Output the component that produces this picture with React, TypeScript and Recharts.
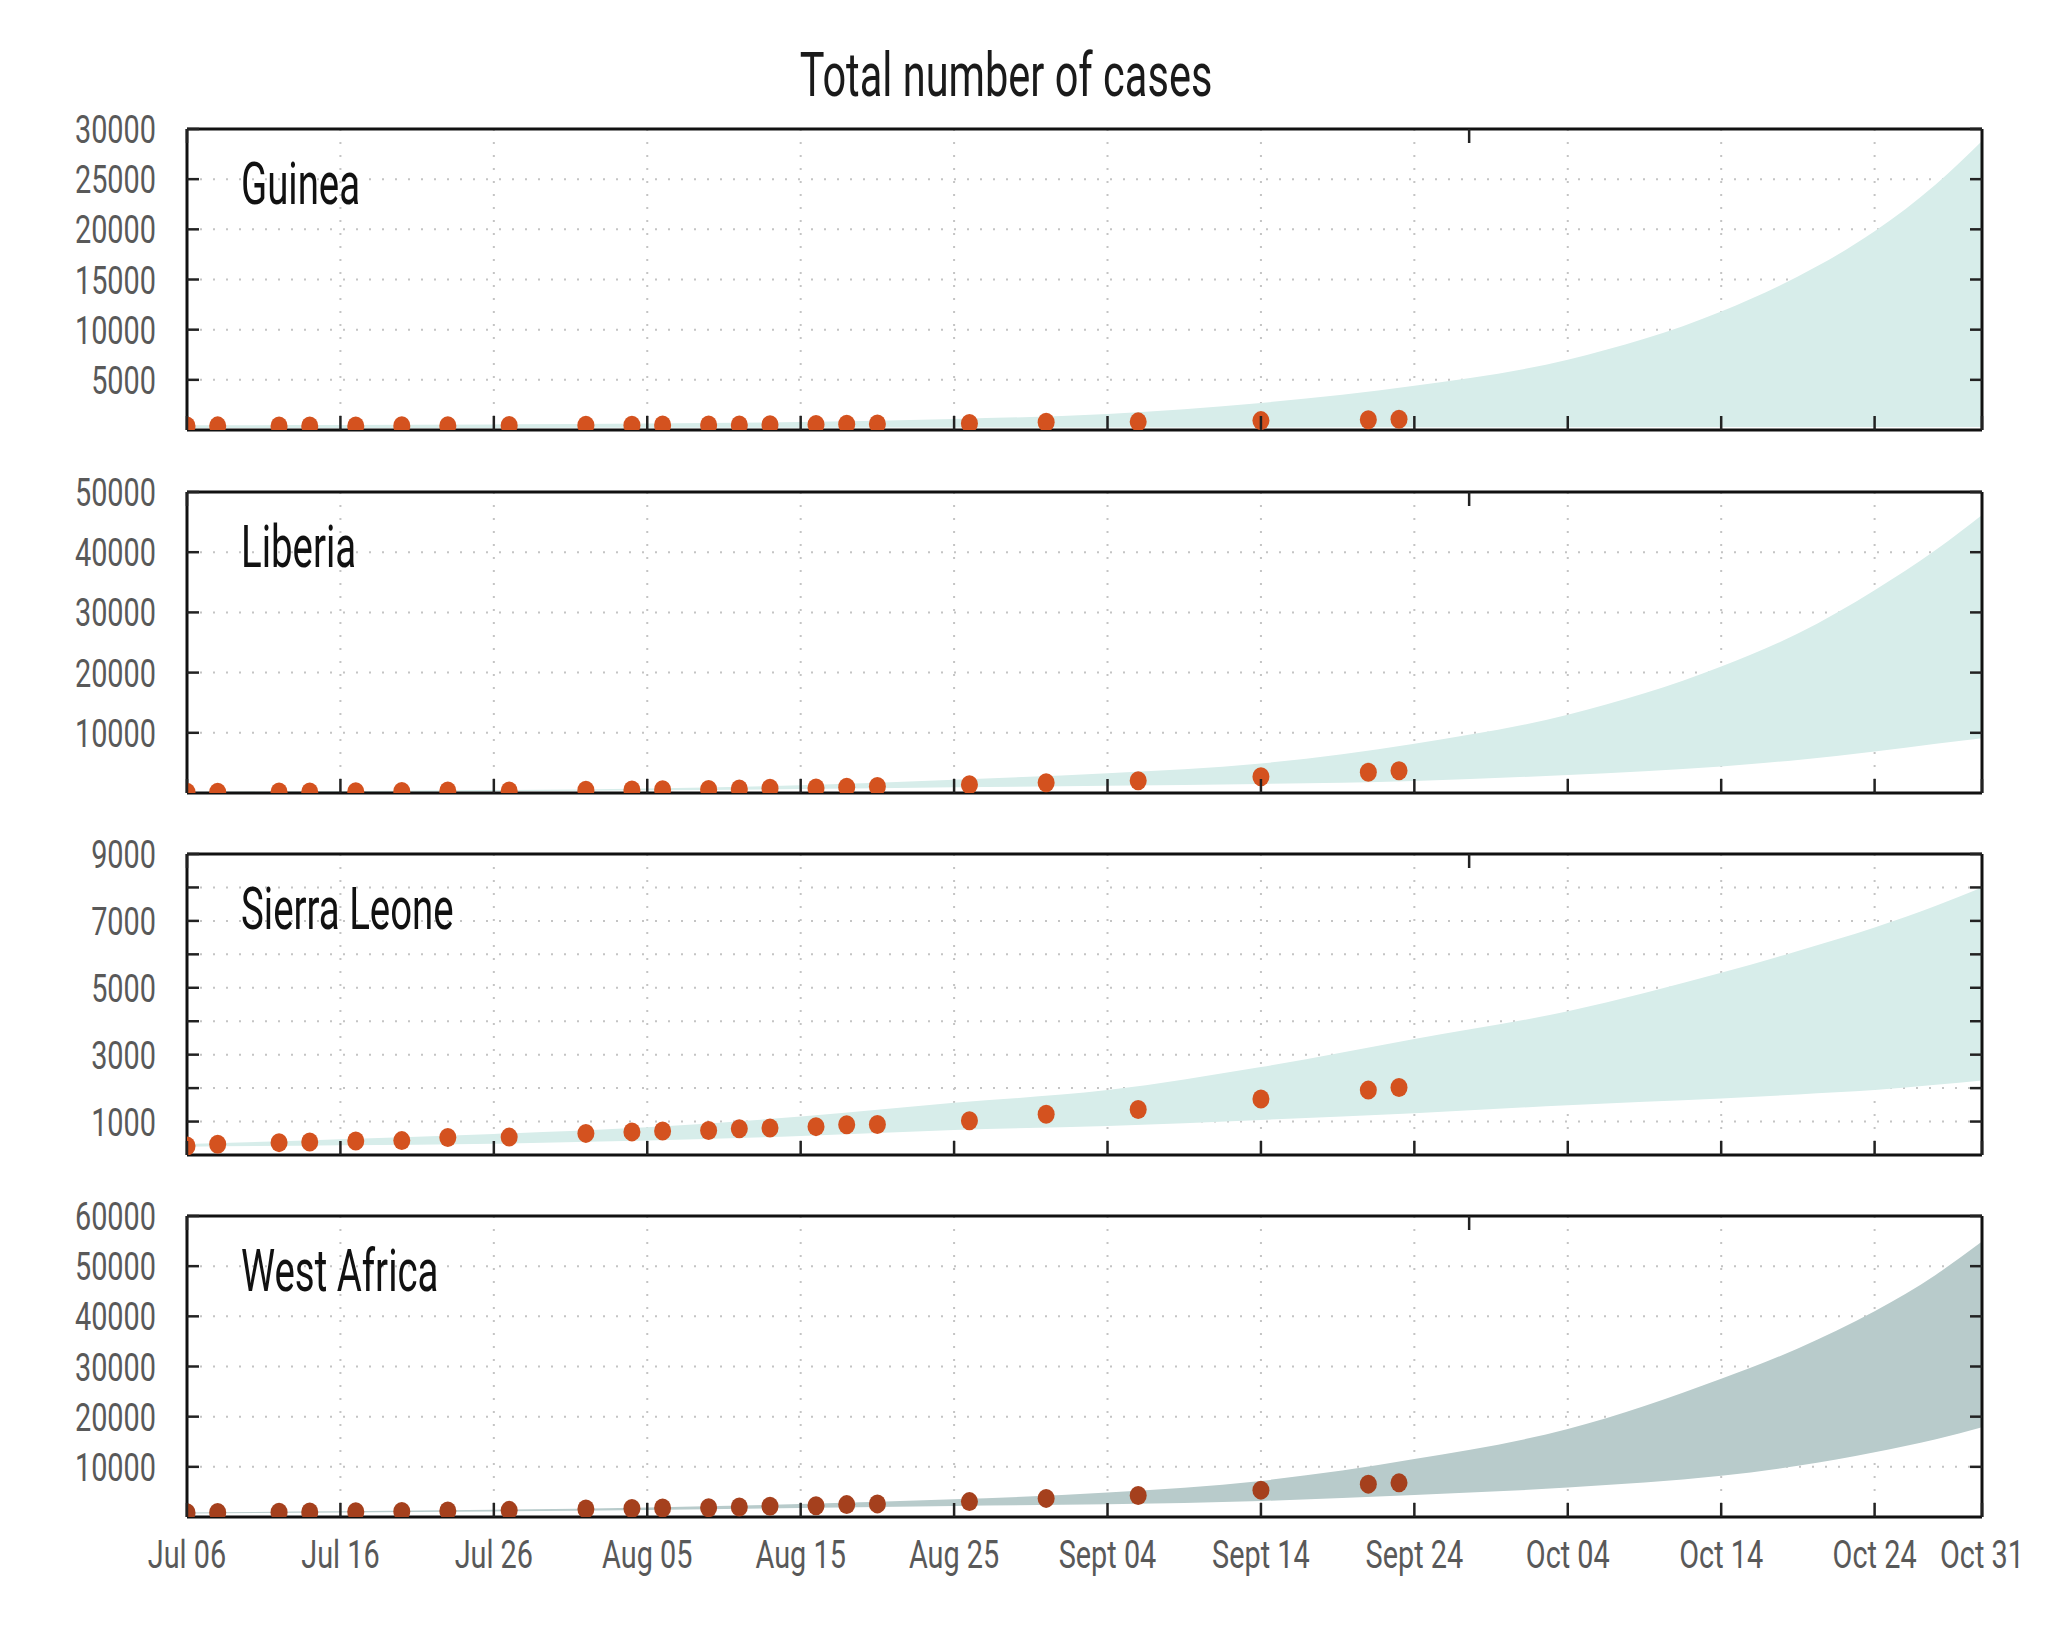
import { ComposedChart, Area, Scatter, XAxis, YAxis, CartesianGrid } from 'recharts';

// days since Jul 06 of each reported count
const reportDays = [0, 2, 6, 8, 11, 14, 17, 21, 26, 29, 31, 34, 36, 38, 41, 43, 45, 51, 56, 62, 70, 77, 79];

const guineaCases = [410, 412, 406, 411, 410, 415, 427, 460, 472, 485, 495, 506, 510, 519, 543, 579, 607, 648, 771, 812, 936, 1022, 1074];
const liberiaCases = [131, 142, 172, 174, 224, 249, 329, 329, 468, 516, 554, 599, 670, 786, 834, 972, 1082, 1378, 1698, 2046, 2710, 3458, 3696];
const sierraCases = [270, 320, 370, 386, 420, 430, 525, 535, 646, 691, 717, 730, 783, 810, 848, 907, 910, 1026, 1216, 1361, 1673, 1940, 2021];
const westAfricaCases = [844, 888, 964, 982, 1048, 1093, 1201, 1323, 1603, 1711, 1779, 1848, 1975, 2127, 2240, 2473, 2615, 3069, 3707, 4269, 5357, 6553, 6808];

// projection band (lower / upper bound)
const bandDays = [0, 10, 20, 30, 40, 50, 60, 70, 80, 90, 100, 105, 110, 114, 117];
const guineaLow = [200, 200, 210, 220, 230, 240, 250, 260, 270, 280, 290, 300, 300, 300, 300];
const guineaHigh = [480, 500, 560, 650, 800, 1100, 1600, 2700, 4400, 7000, 11800, 15300, 19800, 24500, 28800];
const liberiaLow = [100, 180, 300, 450, 650, 950, 1200, 1500, 2000, 3000, 4400, 5500, 6900, 8200, 9100];
const liberiaHigh = [180, 300, 480, 750, 1300, 2200, 3300, 4900, 8200, 13000, 21000, 26500, 33700, 40400, 46200];
const sierraLow = [250, 290, 340, 430, 570, 750, 870, 1050, 1250, 1490, 1690, 1810, 1940, 2100, 2230];
const sierraHigh = [330, 470, 630, 830, 1150, 1560, 1940, 2630, 3470, 4300, 5450, 6100, 6800, 7450, 8000];
const westAfricaLow = [700, 900, 1100, 1400, 1800, 2200, 2530, 3200, 4400, 5870, 8200, 10200, 12900, 15500, 17880];
const westAfricaHigh = [900, 1150, 1450, 1900, 2600, 3530, 4870, 7200, 11540, 17540, 27550, 33600, 41000, 48300, 54900];

const tickDays = [0, 10, 20, 30, 40, 50, 60, 70, 80, 90, 100, 110, 117];
const tickLabels = ['Jul 06', 'Jul 16', 'Jul 26', 'Aug 05', 'Aug 15', 'Aug 25', 'Sept 04', 'Sept 14', 'Sept 24', 'Oct 04', 'Oct 14', 'Oct 24', 'Oct 31'];

const guineaTicks = [5000, 10000, 15000, 20000, 25000, 30000];
const liberiaTicks = [10000, 20000, 30000, 40000, 50000];
const sierraTicks = [1000, 2000, 3000, 4000, 5000, 6000, 7000, 8000, 9000];
const sierraLabelled = [1000, 3000, 5000, 7000, 9000];
const westAfricaTicks = [10000, 20000, 30000, 40000, 50000, 60000];

const title = 'Total number of cases';

const FONT = 'Roboto, "DejaVu Sans", sans-serif';
const SQUEEZE = 0.74;
const PLOT_TOPS = [129, 492, 854, 1216];
const PLOT_H = 301;
const TOP_PAD = 40;
const Y_GAP = 31; // label to frame
const X_GAP = 23;
const Y_MARK = 12;
const X_MARK = 14;

const makeBand = (low: number[], high: number[]) =>
  bandDays.map((day, i) => ({ day, band: [low[i], high[i]] }));
const makePoints = (cases: number[]) => reportDays.map((day, i) => ({ day, cases: cases[i] }));

const panels = [
  { name: 'Guinea', band: makeBand(guineaLow, guineaHigh), points: makePoints(guineaCases), max: 30000, ticks: guineaTicks, labelled: guineaTicks, fill: '#d7edea', dot: '#d4521f' },
  { name: 'Liberia', band: makeBand(liberiaLow, liberiaHigh), points: makePoints(liberiaCases), max: 50000, ticks: liberiaTicks, labelled: liberiaTicks, fill: '#d7edea', dot: '#d4521f' },
  { name: 'Sierra Leone', band: makeBand(sierraLow, sierraHigh), points: makePoints(sierraCases), max: 9000, ticks: sierraTicks, labelled: sierraLabelled, fill: '#d7edea', dot: '#d4521f' },
  { name: 'West Africa', band: makeBand(westAfricaLow, westAfricaHigh), points: makePoints(westAfricaCases), max: 60000, ticks: westAfricaTicks, labelled: westAfricaTicks, fill: '#b8cbcb', dot: '#a5401d' },
];

const frame = { stroke: '#111', strokeWidth: 3 };
const markStyle = { stroke: '#222', strokeWidth: 2.5 };

// tick marks point into the plot, so each tick draws its own short line
const topTick = (p: any) => <line x1={p.x} x2={p.x} y1={p.y} y2={p.y + X_MARK} {...markStyle} />;
const rightTick = (p: any) => <line x1={p.x - Y_MARK} x2={p.x} y1={p.y} y2={p.y} {...markStyle} />;

function Panel({ panel, top, showX }: any) {
  const bottomH = showX ? 60 : 1;
  const bottomM = showX ? 20 : 19;
  const height = TOP_PAD + PLOT_H + bottomH + bottomM;

  const leftTick = (p: any) => {
    const v = p.payload.value;
    const axisX = p.x + Y_GAP;
    return (
      <g>
        <line x1={axisX} x2={axisX + Y_MARK} y1={p.y} y2={p.y} {...markStyle} />
        {panel.labelled.includes(v) && (
          <text
            transform={`translate(${p.x},${p.y}) scale(${SQUEEZE},1)`}
            textAnchor="end"
            dy="0.36em"
            fontSize={39}
            fontFamily={FONT}
            fill="#595959"
          >
            {v}
          </text>
        )}
      </g>
    );
  };
  const bottomTick = (p: any) => {
    const axisY = p.y - X_GAP;
    return (
      <g>
        <line x1={p.x} x2={p.x} y1={axisY} y2={axisY - X_MARK} {...markStyle} />
        {showX && (
          <text
            transform={`translate(${p.x},${p.y}) scale(${SQUEEZE},1)`}
            textAnchor="middle"
            dy="0.71em"
            fontSize={39}
            fontFamily={FONT}
            fill="#595959"
          >
            {tickLabels[tickDays.indexOf(p.payload.value)]}
          </text>
        )}
      </g>
    );
  };

  const xCommon = { type: 'number' as const, domain: [0, 117], ticks: tickDays, interval: 0 as const, allowDataOverflow: true, tickSize: 0, tickLine: false, axisLine: frame };
  const yCommon = { type: 'number' as const, domain: [0, panel.max], ticks: panel.ticks, interval: 0 as const, allowDataOverflow: true, tickSize: 0, tickLine: false, axisLine: frame };

  return (
    <div style={{ position: 'absolute', left: 0, top: top - TOP_PAD, width: 2048, height }}>
      <ComposedChart
        width={2048}
        height={height}
        data={panel.band}
        margin={{ top: TOP_PAD - 1, right: 65, bottom: bottomM, left: 67 }}
      >
        <CartesianGrid stroke="#c4c4c4" strokeWidth={2} strokeDasharray="2 11" />
        <XAxis dataKey="day" {...xCommon} height={bottomH} tickMargin={X_GAP} tick={bottomTick} />
        <XAxis xAxisId="top" orientation="top" {...xCommon} height={1} tickMargin={0} tick={topTick} />
        <YAxis {...yCommon} width={120} tickMargin={Y_GAP} tick={leftTick} />
        <YAxis yAxisId="right" orientation="right" {...yCommon} width={1} tickMargin={0} tick={rightTick} />
        <Area
          dataKey="band"
          type="monotone"
          stroke="none"
          fill={panel.fill}
          fillOpacity={1}
          dot={false}
          activeDot={false}
          isAnimationActive={false}
        />
        <Scatter
          data={panel.points}
          dataKey="cases"
          isAnimationActive={false}
          shape={(p: any) => <ellipse cx={p.cx} cy={p.cy} rx={8.5} ry={9.5} fill={panel.dot} />}
        />
      </ComposedChart>
    </div>
  );
}

export default function App() {
  return (
    <div style={{ position: 'absolute', left: 0, top: 0, width: 2048, height: 1651, background: '#fff' }}>
      {panels.map((panel, i) => (
        <Panel key={panel.name} panel={panel} top={PLOT_TOPS[i]} showX={i === panels.length - 1} />
      ))}
      <svg width={2048} height={1651} style={{ position: 'absolute', left: 0, top: 0, pointerEvents: 'none' }}>
        <text
          transform={`translate(1006,96) scale(0.67,1)`}
          textAnchor="middle"
          fontSize={62}
          fontFamily={FONT}
          fill="#1a1a1a"
        >
          {title}
        </text>
        {panels.map((panel, i) => (
          <text
            key={panel.name}
            transform={`translate(241,${PLOT_TOPS[i] + PLOT_H * 0.25}) scale(0.64,1)`}
            fontSize={60}
            fontFamily={FONT}
            fill="#111"
          >
            {panel.name}
          </text>
        ))}
      </svg>
    </div>
  );
}
